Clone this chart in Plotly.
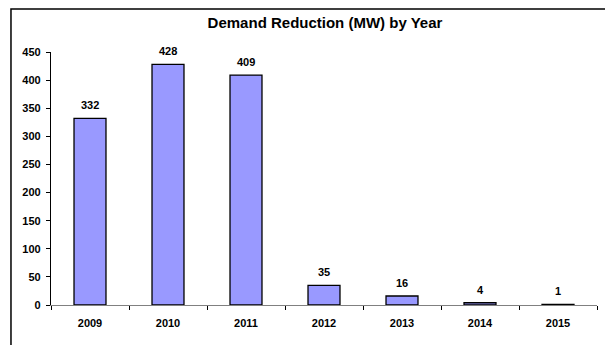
import plotly.graph_objects as go

years = ["2009", "2010", "2011", "2012", "2013", "2014", "2015"]
reduction_mw = [332, 428, 409, 35, 16, 4, 1]
y_ticks = [0, 50, 100, 150, 200, 250, 300, 350, 400, 450]

FONT = "Liberation Sans, Arial, sans-serif"

fig = go.Figure()
fig.add_trace(go.Bar(
    x=years,
    y=reduction_mw,
    marker=dict(color="#9999FF", line=dict(color="#000000", width=1.3)),
    width=0.41,
    hoverinfo="x+y",
))

# value labels above each bar (category axis positions are indices)
for i, v in enumerate(reduction_mw):
    fig.add_annotation(
        x=i, y=v, text=str(v), showarrow=False,
        yanchor="bottom", yshift=5,
        font=dict(family=FONT, size=11, color="#000000", weight="bold"),
    )

# outer chart frame
fig.add_shape(
    type="rect", xref="paper", yref="paper",
    x0=-0.0733, x1=1.2, y0=-0.5, y1=1.17,
    line=dict(color="#000000", width=1.5), fillcolor="rgba(0,0,0,0)",
    layer="below",
)

fig.update_layout(
    width=605, height=345,
    margin=dict(l=51, r=8, t=52, b=40),
    paper_bgcolor="#FFFFFF", plot_bgcolor="#FFFFFF",
    showlegend=False,
    title=dict(
        text="Demand Reduction (MW) by Year",
        x=325 / 605, xanchor="center", y=1 - 23 / 345, yanchor="middle",
        font=dict(family=FONT, size=15, color="#000000", weight="bold"),
    ),
    xaxis=dict(
        type="category", tickson="boundaries",
        showline=True, linecolor="#808080", linewidth=1.3,
        ticks="outside", ticklen=4, tickcolor="#000000", tickwidth=1,
        tickfont=dict(family=FONT, size=11, color="#000000", weight="bold"),
        tickangle=0, ticklabelstandoff=8,
        showgrid=False, zeroline=False, fixedrange=True,
    ),
    yaxis=dict(
        range=[0, 450], tickvals=y_ticks,
        showline=True, linecolor="#000000", linewidth=1.3,
        ticks="outside", ticklen=4, tickcolor="#000000", tickwidth=1,
        tickfont=dict(family=FONT, size=11, color="#000000", weight="bold"),
        ticklabelstandoff=3,
        showgrid=False, zeroline=False, fixedrange=True,
    ),
)

fig.write_html("out.html")
